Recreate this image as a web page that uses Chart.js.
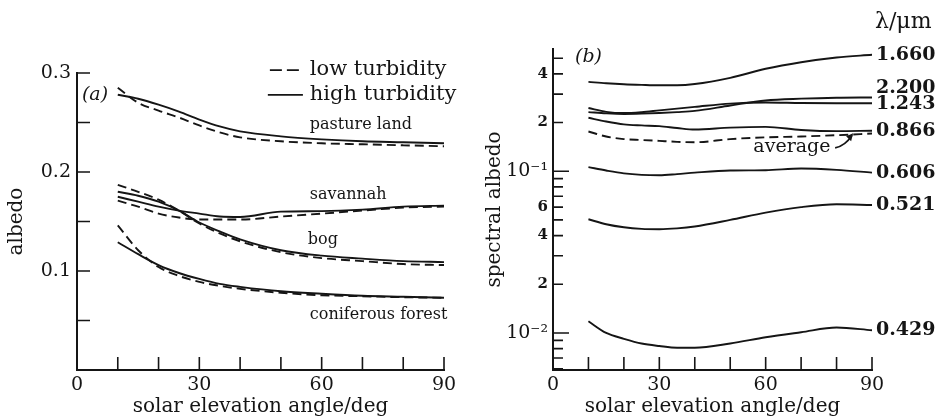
<!DOCTYPE html>
<html>
<head>
<meta charset="utf-8">
<script src="https://cdn.jsdelivr.net/npm/chart.js@4"></script>
<style>
  html, body { margin: 0; padding: 0; background: #fff; }
  #wrap { position: relative; width: 935px; height: 419px; }
  #left { position: absolute; left: 0; top: 0; }
  #right { position: absolute; left: 470px; top: 0; }
</style>
</head>
<body>
<div id="wrap">
  <canvas id="left" width="470" height="419"></canvas>
  <canvas id="right" width="465" height="419"></canvas>
</div>
<script>
// solar elevation angles (deg) where the curves were read
const angles = [10, 15, 20, 25, 30, 35, 40, 50, 60, 70, 80, 90];

// (a) albedo, low / high turbidity
const pastureLow   = [0.285, 0.270, 0.262, 0.255, 0.247, 0.240, 0.235, 0.231, 0.229, 0.228, 0.227, 0.226];
const pastureHigh  = [0.278, 0.274, 0.268, 0.261, 0.253, 0.246, 0.241, 0.236, 0.233, 0.231, 0.230, 0.229];
const savannahLow  = [0.171, 0.165, 0.158, 0.154, 0.152, 0.152, 0.152, 0.155, 0.158, 0.161, 0.164, 0.165];
const savannahHigh = [0.175, 0.170, 0.165, 0.161, 0.158, 0.155, 0.1545, 0.160, 0.1605, 0.162, 0.165, 0.166];
const bogLow       = [0.187, 0.180, 0.172, 0.161, 0.148, 0.138, 0.130, 0.119, 0.113, 0.110, 0.107, 0.106];
const bogHigh      = [0.180, 0.176, 0.170, 0.161, 0.149, 0.140, 0.132, 0.121, 0.1155, 0.1125, 0.110, 0.109];
const forestLow    = [0.146, 0.121, 0.104, 0.095, 0.089, 0.085, 0.082, 0.078, 0.0755, 0.0745, 0.0735, 0.073];
const forestHigh   = [0.129, 0.117, 0.106, 0.098, 0.092, 0.087, 0.084, 0.0795, 0.077, 0.075, 0.074, 0.073];

// (b) spectral albedo by wavelength (um)
const spec1660    = [0.357, 0.350, 0.345, 0.342, 0.340, 0.340, 0.346, 0.378, 0.430, 0.472, 0.505, 0.525];
const spec2200    = [0.232, 0.228, 0.226, 0.227, 0.229, 0.232, 0.236, 0.255, 0.274, 0.281, 0.285, 0.286];
const spec1243    = [0.246, 0.233, 0.229, 0.232, 0.238, 0.244, 0.250, 0.262, 0.266, 0.264, 0.263, 0.263];
const spec0866    = [0.214, 0.203, 0.195, 0.192, 0.190, 0.185, 0.181, 0.186, 0.188, 0.180, 0.177, 0.178];
const specAverage = [0.176, 0.164, 0.158, 0.156, 0.154, 0.152, 0.151, 0.158, 0.162, 0.164, 0.167, 0.171];
const spec0606    = [0.106, 0.101, 0.097, 0.095, 0.0945, 0.096, 0.098, 0.101, 0.1015, 0.104, 0.102, 0.098];
const spec0521    = [0.0505, 0.047, 0.045, 0.044, 0.0438, 0.0443, 0.0455, 0.050, 0.0555, 0.060, 0.0625, 0.0618];
const spec0429    = [0.0118, 0.0100, 0.0092, 0.0086, 0.0083, 0.0081, 0.0081, 0.0086, 0.0094, 0.0101, 0.0108, 0.0104];

const wavelengths = ['1.660', '2.200', '1.243', '0.866', '0.606', '0.521', '0.429'];
const labelValues = [0.525, 0.325, 0.262, 0.1765, 0.098, 0.062, 0.0104];

// tick marks
const xTickMarks = [10, 20, 30, 40, 50, 60, 70, 80, 90];
const leftYTickMarks = [0.05, 0.1, 0.15, 0.2, 0.25, 0.3];
const rightYTickMarks = [0.006, 0.007, 0.008, 0.009, 0.01, 0.02, 0.03, 0.04, 0.05, 0.06, 0.07, 0.08, 0.09, 0.1, 0.2, 0.3, 0.4, 0.5];
const rightYMajor = [0.01, 0.1];
const rightYLabelValues = [0.01, 0.02, 0.04, 0.06, 0.1, 0.2, 0.4];
const rightYLabels = ['10\u207B\u00B2', '2', '4', '6', '10\u207B\u00B9', '2', '4'];

const INK = '#151515';
const SERIF = '"DejaVu Serif", "Liberation Serif", serif';

function pts(vals) {
  return angles.map((a, i) => ({ x: a, y: vals[i] }));
}

function line(vals, dashed) {
  return {
    data: pts(vals),
    showLine: true,
    borderColor: INK,
    borderWidth: 1.9,
    borderDash: dashed ? [9, 5] : [],
    pointRadius: 0,
    cubicInterpolationMode: 'monotone',
    fill: false
  };
}

function text(ctx, s, x, y, size, opts = {}) {
  ctx.save();
  ctx.fillStyle = INK;
  ctx.font = (opts.style || '') + ' ' + (opts.weight || 'normal') + ' ' + size + 'px ' + SERIF;
  ctx.textAlign = opts.align || 'left';
  ctx.textBaseline = 'middle';
  ctx.fillText(s, x, y);
  ctx.restore();
}

// short tick marks pointing into the plot
const inwardTicks = {
  id: 'inwardTicks',
  afterDraw(chart, args, opts) {
    const { ctx, chartArea: a, scales: { x, y } } = chart;
    ctx.save();
    ctx.strokeStyle = INK;
    ctx.lineWidth = 1.6;
    ctx.beginPath();
    opts.x.forEach(v => {
      const px = x.getPixelForValue(v);
      ctx.moveTo(px, a.bottom);
      ctx.lineTo(px, a.bottom - opts.xLen);
    });
    opts.y.forEach(v => {
      const py = y.getPixelForValue(v);
      const len = (opts.yMajor || []).includes(v) ? opts.majorLen : opts.yLen;
      ctx.moveTo(a.left, py);
      ctx.lineTo(a.left + len, py);
    });
    ctx.stroke();
    ctx.restore();
  }
};

const leftLabels = {
  id: 'leftLabels',
  afterDraw(chart) {
    const { ctx, scales: { x, y } } = chart;
    text(ctx, '(a)', x.getPixelForValue(1.2), y.getPixelForValue(0.278), 19, { style: 'italic' });
    text(ctx, 'pasture land', x.getPixelForValue(57.1), y.getPixelForValue(0.2475), 16);
    text(ctx, 'savannah', x.getPixelForValue(57.1), y.getPixelForValue(0.1768), 16);
    text(ctx, 'bog', x.getPixelForValue(56.6), y.getPixelForValue(0.131), 16);
    text(ctx, 'coniferous forest', x.getPixelForValue(57.1), y.getPixelForValue(0.0556), 16);

    // legend
    ctx.save();
    ctx.strokeStyle = INK;
    ctx.lineWidth = 1.8;
    ctx.setLineDash([12, 5]);
    ctx.beginPath();
    ctx.moveTo(x.getPixelForValue(47.3), y.getPixelForValue(0.303));
    ctx.lineTo(x.getPixelForValue(55.4), y.getPixelForValue(0.303));
    ctx.stroke();
    ctx.setLineDash([]);
    ctx.beginPath();
    ctx.moveTo(x.getPixelForValue(46.8), y.getPixelForValue(0.278));
    ctx.lineTo(x.getPixelForValue(55.4), y.getPixelForValue(0.278));
    ctx.stroke();
    ctx.restore();
    text(ctx, 'low turbidity', x.getPixelForValue(57.1), y.getPixelForValue(0.303), 21);
    text(ctx, 'high turbidity', x.getPixelForValue(57.1), y.getPixelForValue(0.278), 21);
  }
};

const rightLabels = {
  id: 'rightLabels',
  afterDraw(chart) {
    const { ctx, scales: { x, y } } = chart;
    const lx = x.getPixelForValue(90) + 4;
    wavelengths.forEach((w, i) => {
      text(ctx, w, lx, y.getPixelForValue(labelValues[i]), 19, { weight: 'bold' });
    });
    text(ctx, '\u03BB/\u03BCm', lx - 1, y.getPixelForValue(0.83), 22);
    text(ctx, '(b)', x.getPixelForValue(6.2), y.getPixelForValue(0.506), 19, { style: 'italic' });
    text(ctx, 'average', x.getPixelForValue(67.4), y.getPixelForValue(0.1407), 19, { align: 'center' });

    // small curved arrow from "average" to the dashed curve
    const x0 = x.getPixelForValue(79.6), y0 = y.getPixelForValue(0.1395);
    const x1 = x.getPixelForValue(84.4), y1 = y.getPixelForValue(0.167);
    ctx.save();
    ctx.strokeStyle = INK;
    ctx.fillStyle = INK;
    ctx.lineWidth = 1.6;
    ctx.beginPath();
    ctx.moveTo(x0, y0);
    ctx.quadraticCurveTo(x0 + 10, y0 - 2, x1, y1);
    ctx.stroke();
    ctx.beginPath();
    ctx.moveTo(x1 + 1, y1 - 2);
    ctx.lineTo(x1 - 6, y1 + 1);
    ctx.lineTo(x1 - 1, y1 + 6);
    ctx.closePath();
    ctx.fill();
    ctx.restore();
  }
};

const axisTitle = (t, pad) => ({
  display: true,
  text: t,
  color: INK,
  font: { family: SERIF, size: 20 },
  padding: pad
});

new Chart(document.getElementById('left').getContext('2d'), {
  type: 'scatter',
  data: {
    datasets: [
      line(pastureLow, true), line(pastureHigh, false),
      line(savannahLow, true), line(savannahHigh, false),
      line(bogLow, true), line(bogHigh, false),
      line(forestLow, true), line(forestHigh, false)
    ]
  },
  options: {
    responsive: false,
    animation: false,
    layout: { padding: { top: 73, right: 26, left: 0, bottom: 0 } },
    plugins: {
      legend: { display: false },
      tooltip: { enabled: false },
      inwardTicks: { x: xTickMarks, y: leftYTickMarks, xLen: 13, yLen: 13, majorLen: 13 }
    },
    scales: {
      x: {
        type: 'linear', min: 0, max: 90,
        ticks: { stepSize: 30, color: INK, padding: 4, maxRotation: 0, font: { family: SERIF, size: 19 } },
        grid: { display: false, drawTicks: false },
        border: { display: true, color: INK, width: 2 },
        title: axisTitle('solar elevation angle/deg', { top: 0, bottom: 0 }),
        afterFit: s => { s.height = 49; }
      },
      y: {
        min: 0, max: 0.3,
        ticks: {
          stepSize: 0.1, color: INK, padding: 6,
          font: { family: SERIF, size: 19 },
          callback: v => (v === 0 ? '' : v.toFixed(1))
        },
        grid: { display: false, drawTicks: false },
        border: { display: true, color: INK, width: 2 },
        title: axisTitle('albedo', { top: 5, bottom: 0 }),
        afterFit: s => { s.width = 77; }
      }
    }
  },
  plugins: [inwardTicks, leftLabels]
});

new Chart(document.getElementById('right').getContext('2d'), {
  type: 'scatter',
  data: {
    datasets: [
      line(spec1660, false), line(spec2200, false), line(spec1243, false),
      line(spec0866, false), line(specAverage, true), line(spec0606, false),
      line(spec0521, false), line(spec0429, false)
    ]
  },
  options: {
    responsive: false,
    animation: false,
    layout: { padding: { top: 49, right: 63, left: 0, bottom: 0 } },
    plugins: {
      legend: { display: false },
      tooltip: { enabled: false },
      inwardTicks: { x: xTickMarks, y: rightYTickMarks, yMajor: rightYMajor, xLen: 13, yLen: 10, majorLen: 16 }
    },
    scales: {
      x: {
        type: 'linear', min: 0, max: 90,
        ticks: { stepSize: 30, color: INK, padding: 4, maxRotation: 0, font: { family: SERIF, size: 19 } },
        grid: { display: false, drawTicks: false },
        border: { display: true, color: INK, width: 2 },
        title: axisTitle('solar elevation angle/deg', { top: 0, bottom: 0 }),
        afterFit: s => { s.height = 49; }
      },
      y: {
        type: 'logarithmic', min: 0.0059, max: 0.57,
        afterBuildTicks: s => { s.ticks = rightYLabelValues.map(v => ({ value: v })); },
        ticks: {
          color: INK, padding: 5, autoSkip: false,
          font: c => (c.index === 0 || c.index === 4)
            ? { family: SERIF, size: 19 }
            : { family: SERIF, size: 15, weight: 'bold' },
          callback: (v, i) => rightYLabels[i]
        },
        grid: { display: false, drawTicks: false },
        border: { display: true, color: INK, width: 2 },
        title: axisTitle('spectral albedo', { top: 13, bottom: 0 }),
        afterFit: s => { s.width = 83; }
      }
    }
  },
  plugins: [inwardTicks, rightLabels]
});
</script>
</body>
</html>
